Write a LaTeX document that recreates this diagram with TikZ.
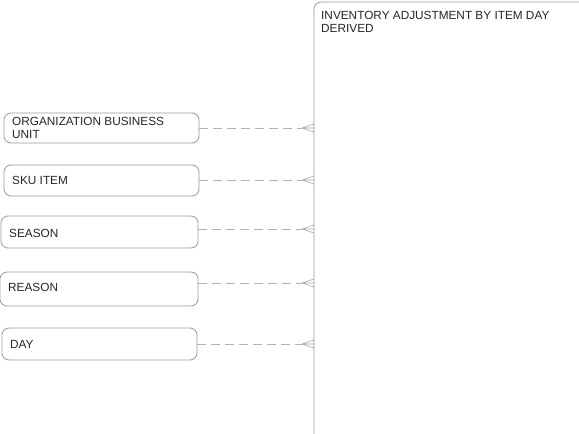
\documentclass[tikz,border=0pt]{standalone}
\usepackage{fontspec}
\setmainfont{Liberation Sans}
\begin{document}
\begin{tikzpicture}[x=1bp,y=-1bp,
  ent/.style={draw=black!40, line width=0.8bp, rounded corners=7bp, fill=white},
  lbl/.style={anchor=north west, inner sep=0pt, font=\fontsize{11.8bp}{13bp}\selectfont, align=left, text=black!85},
  rel/.style={draw=black!30, line width=0.8bp, dash pattern=on 9bp off 5bp},
  foot/.style={draw=black!35, line width=0.6bp}]
\useasboundingbox (0,0) rectangle (579,434);
\begin{scope}
\clip (0,0) rectangle (579,434);
\draw[ent] (314,2) rectangle (590,444);
\end{scope}
\node[lbl] (tt) at (321,11.5) {INVENTORY ADJUSTMENT BY ITEM DAY\\DERIVED};
% small entities
\draw[ent] (4,113) rectangle (199,143);
\node[lbl] (t1) at (12,117) {ORGANIZATION BUSINESS\\UNIT};
\draw[ent] (4,165) rectangle (199,196);
\node[lbl] (t2) at (12,176) {SKU ITEM};
\draw[ent] (1,216) rectangle (198,248);
\node[lbl] (t3) at (9,229) {SEASON};
\draw[ent] (0,272) rectangle (198,306);
\node[lbl] (t4) at (8,283) {REASON};
\draw[ent] (2,328) rectangle (197,360);
\node[lbl] (t5) at (10,340) {DAY};
% connectors
\foreach \y/\x in {128/199,180/199,229/198,283/198,344/197}{
  \coordinate (s) at (\x,\y);
  \coordinate (p) at (302,\y);
  \coordinate (e) at (314,\y);
  \draw[rel] (s) -- (p);
  \draw[foot] (p) -- ([yshift=-4bp]e) (p) -- (e) (p) -- ([yshift=4bp]e);
}
\end{tikzpicture}
\end{document}
